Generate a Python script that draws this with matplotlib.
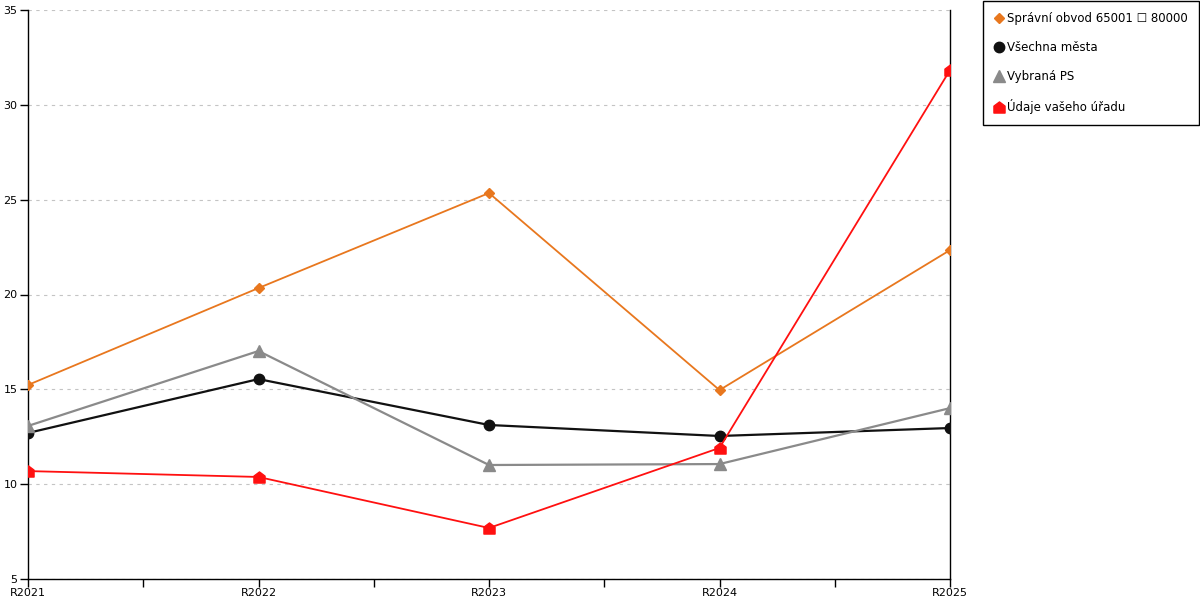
import matplotlib
matplotlib.use('Agg')
import matplotlib.pyplot as plt
from matplotlib.path import Path
from matplotlib.ticker import MultipleLocator

years = ['R2021', 'R2022', 'R2023', 'R2024', 'R2025']
obvod = [15.23, 20.34, 25.35, 14.96, 22.34]
mesta = [12.70, 15.54, 13.12, 12.54, 12.96]
vybrana = [13.07, 17.02, 11.01, 11.06, 14.01]
urad = [10.69, 10.38, 7.69, 11.91, 31.83]

labels = ['Správní obvod 65001 \u2610 80000', 'Všechna města', 'Vybraná PS', 'Údaje vašeho úřadu']

# house-shaped marker for the office series
house = Path([(-1, -1), (1, -1), (1, 0.25), (0, 1), (-1, 0.25), (-1, -1)],
             [Path.MOVETO, Path.LINETO, Path.LINETO, Path.LINETO, Path.LINETO, Path.CLOSEPOLY])

plt.rcParams['font.family'] = ['DejaVu Sans']
plt.rcParams['font.size'] = 8

fig = plt.figure(figsize=(12, 6), dpi=100)
ax = fig.add_axes([28 / 1200, 21 / 600, 922 / 1200, 569 / 600])

x = list(range(len(years)))
ax.plot(x, obvod, color='#E8771E', lw=1.3, marker='D', ms=5.5, label=labels[0], zorder=3)
ax.plot(x, mesta, color='#111111', lw=1.6, marker='o', ms=7.5, label=labels[1], zorder=3)
ax.plot(x, vybrana, color='#8a8a8a', lw=1.6, marker='^', ms=8, label=labels[2], zorder=3)
ax.plot(x, urad, color='#FF1010', lw=1.3, marker=house, ms=8, label=labels[3], zorder=4)

ax.set_xlim(0, len(years) - 1)
ax.set_ylim(5, 35)
ax.set_xticks(x)
ax.set_xticklabels(years)
ax.xaxis.set_minor_locator(MultipleLocator(0.5))
ax.yaxis.set_major_locator(MultipleLocator(5))
ax.tick_params(axis='both', which='major', length=6, width=1, color='black', pad=1.5, labelsize=8)
ax.tick_params(axis='x', which='major', pad=0.5)
ax.tick_params(axis='x', which='minor', length=6, width=1, color='black')

ax.spines['top'].set_visible(False)
for side in ['left', 'right', 'bottom']:
    ax.spines[side].set_color('black')
    ax.spines[side].set_linewidth(1)

ax.grid(axis='y', color='#c4c4c4', linestyle=(0, (3, 4)), linewidth=0.8)
ax.set_axisbelow(True)

leg = fig.legend(loc='upper right', bbox_to_anchor=(1198.5 / 1200, 599.5 / 600),
                 frameon=True, fancybox=False, edgecolor='black', framealpha=1,
                 handlelength=0.8, handletextpad=0.25, labelspacing=1.37,
                 borderpad=0.95, fontsize=8.5, borderaxespad=0)
leg.get_frame().set_linewidth(1)
for h in leg.legend_handles:
    h.set_linestyle('none')

fig.savefig('out.png', dpi=100)
